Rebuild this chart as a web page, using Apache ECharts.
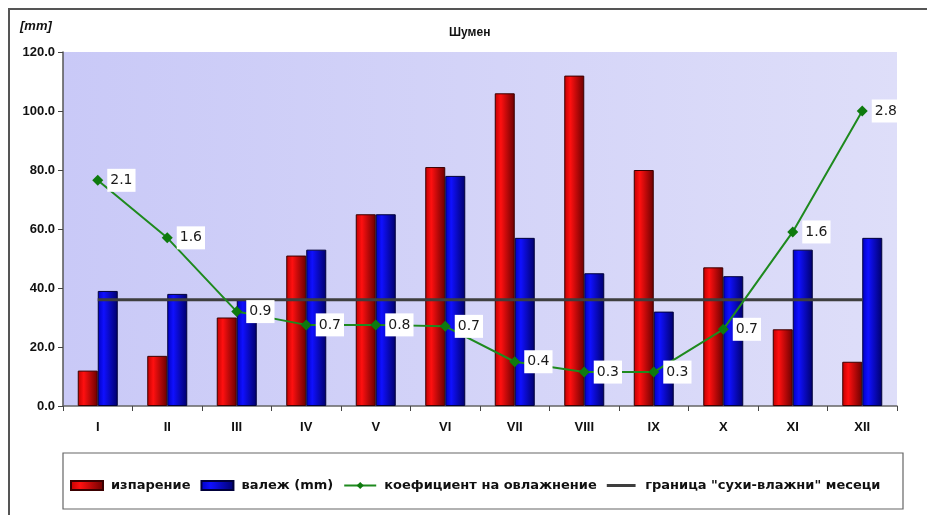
<!DOCTYPE html>
<html>
<head>
<meta charset="utf-8">
<script src="https://cdn.jsdelivr.net/npm/echarts@6/dist/echarts.min.js"></script>
<style>html,body{margin:0;padding:0;background:#fff}#c{width:927px;height:515px}</style>
</head>
<body>
<div id="c"></div>
<script>
const months = ['I','II','III','IV','V','VI','VII','VIII','IX','X','XI','XII'];
const evaporation = [12, 17, 30, 51, 65, 81, 106, 112, 80, 47, 26, 15];
const precipitation = [39, 38, 36, 53, 65, 78, 57, 45, 32, 44, 53, 57];
const coefPlotted = [76.5, 57, 32, 27.5, 27.5, 27, 15, 11.5, 11.5, 26, 59, 100];
const coefLabels = ['2.1','1.6','0.9','0.7','0.8','0.7','0.4','0.3','0.3','0.7','1.6','2.8'];
const boundary = [36,36,36,36,36,36,36,36,36,36,36,36];
const yTicks = [0, 20, 40, 60, 80, 100, 120];

const FONT = '"Liberation Sans", Arial, sans-serif';
const LFONT = '"DejaVu Sans", sans-serif';
const chart = echarts.init(document.getElementById('c'), null, {renderer:'canvas'});

function grad(c1, c2, c3) {
  return new echarts.graphic.LinearGradient(0,0,1,0,[
    {offset:0,color:c1},{offset:0.3,color:c2},{offset:1,color:c3}]);
}
const lineIcon = 'path://M0,0 L0,0.01 M0,3.4 L32,3.4 L32,6.6 L0,6.6 Z M32,10 L32,9.99';

chart.setOption({
  animation:false,
  backgroundColor:'#ffffff',
  graphic:[
    {type:'rect', shape:{x:9,y:9,width:1000,height:1000}, style:{fill:'none',stroke:'#555',lineWidth:2}, z:0},
    {type:'rect', shape:{x:63,y:453,width:840,height:56}, style:{fill:'#fff',stroke:'#666',lineWidth:1.2}, z:0},
    {type:'text', left:20, top:20, style:{text:'[mm]', font:'italic bold 13px '+FONT, fill:'#111'}},
  ],
  title:{text:'Шумен', left:444, top:22, textStyle:{fontFamily:FONT, fontSize:12, fontWeight:'bold', color:'#111'}},
  grid:{left:63, right:30, top:52, bottom:109, show:true, borderWidth:0,
    backgroundColor:new echarts.graphic.LinearGradient(0,0,1,0,[{offset:0,color:'#c9c9f7'},{offset:1,color:'#dedef9'}])},
  legend:{
    left:65, top:474, itemGap:10, itemWidth:32, itemHeight:9,
    textStyle:{fontFamily:LFONT, fontSize:13, fontWeight:'bold', color:'#111', padding:[0,0,0,3]},
    data:[
      {name:'изпарение', icon:'rect'},
      {name:'валеж (mm)', icon:'rect'},
      {name:'коефициент на овлажнение'},
      {name:'граница "сухи-влажни" месеци', icon:lineIcon, itemStyle:{color:'#3e3e3e'}}
    ]
  },
  xAxis:{
    type:'category', data:months,
    axisLine:{lineStyle:{color:'#666', width:1.5}},
    axisTick:{show:true, length:5, lineStyle:{color:'#444'}},
    axisLabel:{fontFamily:FONT, fontSize:13, fontWeight:'bold', color:'#111', margin:15},
  },
  yAxis:{
    type:'value', min:0, max:120, interval:20,
    axisLine:{show:true, lineStyle:{color:'#555', width:1.5}},
    axisTick:{show:true, length:5, lineStyle:{color:'#444'}},
    splitLine:{show:false},
    axisLabel:{fontFamily:FONT, fontSize:13, fontWeight:'bold', color:'#111', margin:8,
      formatter:v=>yTicks.includes(v)?v.toFixed(1):''}
  },
  series:[
    {name:'изпарение', type:'bar', data:evaporation, barWidth:20, barGap:'0%',
      itemStyle:{color:grad('#c00000','#ff1010','#6a0000'), borderColor:'#3a0000', borderWidth:1}, z:2},
    {name:'валеж (mm)', type:'bar', data:precipitation, barWidth:20,
      itemStyle:{color:grad('#0000c0','#1010ff','#00006a'), borderColor:'#00003a', borderWidth:1}, z:2},
    {name:'граница "сухи-влажни" месеци', type:'line', data:boundary, symbol:'none',
      lineStyle:{color:'#3e3e3e', width:3}, itemStyle:{color:'#3e3e3e'}, z:3},
    {name:'коефициент на овлажнение', type:'line', data:coefPlotted, symbol:'diamond', symbolSize:11,
      lineStyle:{color:'#1e8a1e', width:2}, itemStyle:{color:'#0e7a0e'}, z:4,
      label:{show:true, position:'right', distance:4, formatter:p=>coefLabels[p.dataIndex],
        backgroundColor:'#ffffff', padding:[5,3,4,3], color:'#1a1a1a', fontFamily:LFONT, fontSize:14}}
  ]
});
</script>
</body>
</html>
